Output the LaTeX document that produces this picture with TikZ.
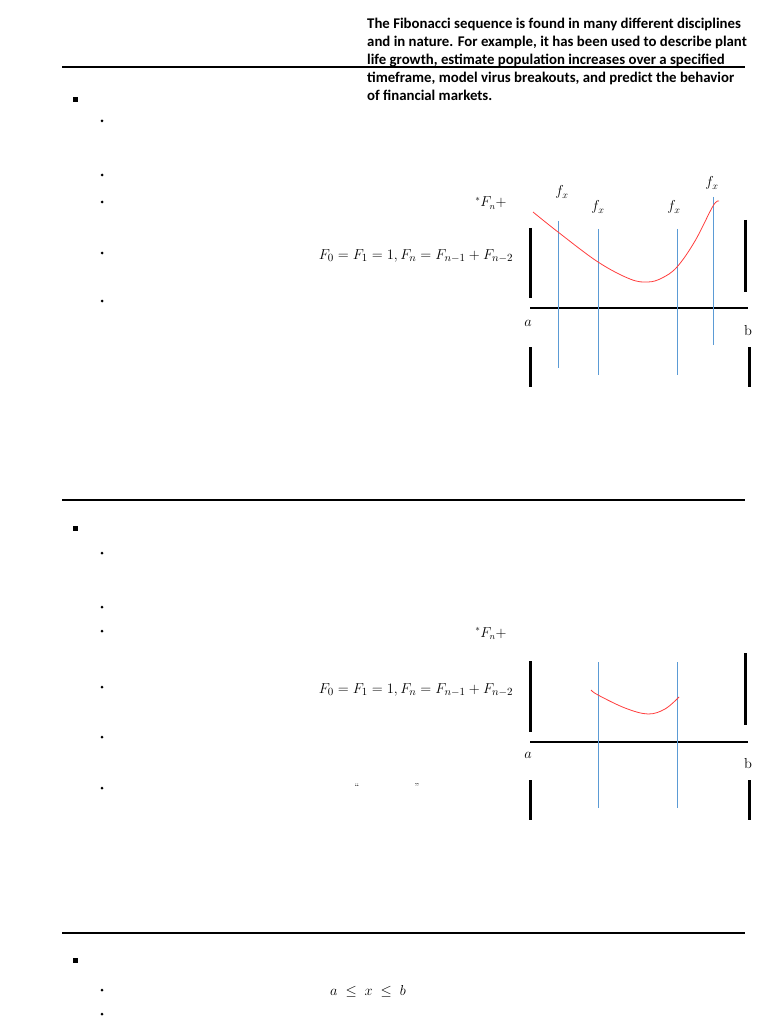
\documentclass[tikz,border=0pt]{standalone}
\usepackage{fontspec}
\newfontfamily\calibri{Carlito}
\definecolor{bluecol}{RGB}{91,155,213}
\definecolor{redcol}{RGB}{255,60,60}
\begin{document}
\begin{tikzpicture}[x=1pt,y=-1pt,
  rule/.style={line width=2.4pt, black},
  bar/.style={line width=3pt, black},
  vline/.style={draw=bluecol, line width=0.9pt},
  curve/.style={draw=redcol, line width=0.8pt},
  dot/.style={circle, fill=black, inner sep=0pt, minimum size=3pt},
  sq/.style={rectangle, fill=black, inner sep=0pt, minimum size=5pt},
  txt/.style={font=\calibri\bfseries\fontsize{14.8}{17}\selectfont, anchor=base west, inner sep=0pt},
  mth/.style={font=\fontsize{15}{17}\selectfont, inner sep=0pt, anchor=base},
  lbl/.style={font=\fontsize{14.5}{16}\selectfont, inner sep=0pt, anchor=base}]
\useasboundingbox (0,0) rectangle (768,1024);

% ---------- top paragraph ----------
\node[txt] (t1) at (367,29) {The Fibonacci sequence is found in many different disciplines};
\node[txt] (t2) at (367,47) {and in nature. For example, it has been used to describe plant};
\node[txt] (t3) at (367,65) {life growth, estimate population increases over a specified};
\node[txt] (t4) at (367,83) {timeframe, model virus breakouts, and predict the behavior};
\node[txt] (t5) at (367,101) {of financial markets.};

% ---------- section 1 ----------
\coordinate (r1a) at (62,67); \coordinate (r1b) at (745,67);
\draw[rule] (r1a) -- (r1b);
\node[sq] (s1) at (75,100) {};
\foreach \y [count=\i] in {121,175,202,253,301} \node[dot] (b1\i) at (102,\y) {};
\node[mth, font=\fontsize{13.5}{15}\selectfont] (fn1) at (491,207) {$^{*}F_n{+}$};
\node[mth] (fib1) at (416,259) {$F_0 = F_1 = 1, F_n = F_{n-1} + F_{n-2}$};

% diagram 1
\coordinate (L1t) at (530,228); \coordinate (L1b) at (530,298);
\coordinate (R1t) at (745,220); \coordinate (R1b) at (745,292);
\coordinate (A1l) at (530,308); \coordinate (A1r) at (748,308);
\coordinate (LB1t) at (530,347); \coordinate (LB1b) at (530,387);
\coordinate (RB1t) at (749,347); \coordinate (RB1b) at (749,387);
\draw[bar] (L1t) -- (L1b);
\draw[bar] (R1t) -- (R1b);
\draw[line width=2.4pt] (A1l) -- (A1r);
\draw[bar] (LB1t) -- (LB1b);
\draw[bar] (RB1t) -- (RB1b);
\coordinate (v1t) at (558,221); \coordinate (v1b) at (558,368);
\coordinate (v2t) at (598,229); \coordinate (v2b) at (598,375);
\coordinate (v3t) at (677,229); \coordinate (v3b) at (677,375);
\coordinate (v4t) at (713,197); \coordinate (v4b) at (713,345);
\draw[vline] (v1t) -- (v1b);
\draw[vline] (v2t) -- (v2b);
\draw[vline] (v3t) -- (v3b);
\draw[vline] (v4t) -- (v4b);
\draw[curve] plot[smooth, tension=0.6] coordinates {(533,212) (558,232) (598,262) (630,279) (648,282) (662,278) (677,267) (695,241) (713,206) (719,201)};
\node[lbl] (fx1) at (562,196) {$f_x$};
\node[lbl] (fx2) at (598,211) {$f_x$};
\node[lbl] (fx3) at (674,211) {$f_x$};
\node[lbl] (fx4) at (712,187) {$f_x$};
\node[lbl] (a1) at (528,326) {$a$};
\node[lbl] (bb1) at (748,335) {b};

% ---------- section 2 ----------
\coordinate (r2a) at (62,500); \coordinate (r2b) at (745,500);
\draw[rule] (r2a) -- (r2b);
\node[sq] (s2) at (75,528) {};
\foreach \y [count=\i] in {553,607,631,687,737,788} \node[dot] (b2\i) at (102,\y) {};
\node[mth, font=\fontsize{13.5}{15}\selectfont] (fn2) at (491,637) {$^{*}F_n{+}$};
\node[mth] (fib2) at (416,693) {$F_0 = F_1 = 1, F_n = F_{n-1} + F_{n-2}$};
\node[lbl, font=\fontsize{10}{11}\selectfont] (q1) at (357,790) {``};
\node[lbl, font=\fontsize{10}{11}\selectfont] (q2) at (417,790) {''};

% diagram 2
\coordinate (L2t) at (530,661); \coordinate (L2b) at (530,732);
\coordinate (R2t) at (745,653); \coordinate (R2b) at (745,725);
\coordinate (A2l) at (530,742); \coordinate (A2r) at (748,742);
\coordinate (LB2t) at (530,780); \coordinate (LB2b) at (530,820);
\coordinate (RB2t) at (749,780); \coordinate (RB2b) at (749,820);
\draw[bar] (L2t) -- (L2b);
\draw[bar] (R2t) -- (R2b);
\draw[line width=2.4pt] (A2l) -- (A2r);
\draw[bar] (LB2t) -- (LB2b);
\draw[bar] (RB2t) -- (RB2b);
\coordinate (w1t) at (598,662); \coordinate (w1b) at (598,808);
\coordinate (w2t) at (677,662); \coordinate (w2b) at (677,808);
\draw[vline] (w1t) -- (w1b);
\draw[vline] (w2t) -- (w2b);
\draw[curve] plot[smooth, tension=0.6] coordinates {(591,690) (598,695) (625,708) (648,714) (665,709) (679,697)};
\node[lbl] (a2) at (528,758) {$a$};
\node[lbl] (bb2) at (748,768) {b};

% ---------- section 3 ----------
\coordinate (r3a) at (62,933); \coordinate (r3b) at (745,933);
\draw[rule] (r3a) -- (r3b);
\node[sq] (s3) at (75,960) {};
\foreach \y [count=\i] in {990,1014} \node[dot] (b3\i) at (102,\y) {};
\node[mth] (ineq) at (368,995) {$a \;\leq\; x \;\leq\; b$};
\end{tikzpicture}
\end{document}
